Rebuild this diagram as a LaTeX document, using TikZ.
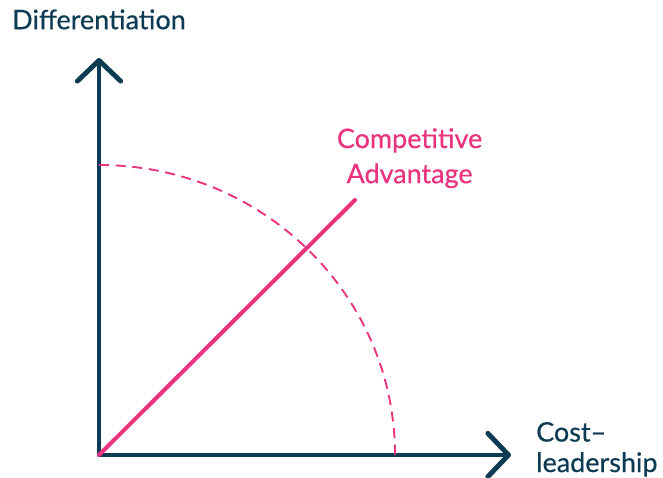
\documentclass[tikz,border=0pt]{standalone}
\usepackage{fontspec}
\setmainfont{Lato}[FakeBold=0.5]
\usepackage{xcolor}
\usepackage{tikz}
\usetikzlibrary{arrows.meta,positioning}
\definecolor{Navy}{RGB}{13,59,84}
\definecolor{Rose}{RGB}{233,51,126}

\begin{document}
\begin{tikzpicture} [x=0.03cm, y=-0.03cm, line cap=round,
       every node/.style={font=\fontsize{23}{26}\selectfont, inner sep=0pt},
       axis/.style = {Navy, line width=4.2pt, line join=round,
                      {Straight Barb[length=0.62cm, width=1.3cm, round]}-{Straight Barb[length=0.62cm, width=1.3cm, round]}},
       frontier/.style = {Rose, line width=1.6pt, line cap=butt, dash pattern=on 0.3cm off 0.2cm},
       advantage/.style = {Rose, line width=3.4pt},
       axislabel/.style = {text=Navy, align=left},
       advlabel/.style = {text=Rose, align=center, font=\fontsize{23}{30}\selectfont}]
	\useasboundingbox (0,0) rectangle (663,478);

	%% Axes
	\coordinate (origin) at (99,455);
	\coordinate (ytop) at (99,58);
	\coordinate (xend) at (511,455);
	\draw[axis] (ytop) -- (origin) -- (xend);

	%% Frontier
	\coordinate (front) at (99,165);
	\draw[frontier] (front) arc[start angle=-90, end angle=0, x radius=296, y radius=290];

	%% Advantage
	\coordinate (tip) at (355,200);
	\draw[advantage] (origin) -- (tip);

	%% Labels
	\node[axislabel, above=0.85cm of ytop] (diff) {Differentiation};
	\node[axislabel, right=0.75cm of xend, yshift=0.17cm] (cost) {Cost–\\leadership};
	\node[advlabel, above right=0.35cm and -0.55cm of tip] (adv) {Competitive\\Advantage};
\end{tikzpicture}
\end{document}
